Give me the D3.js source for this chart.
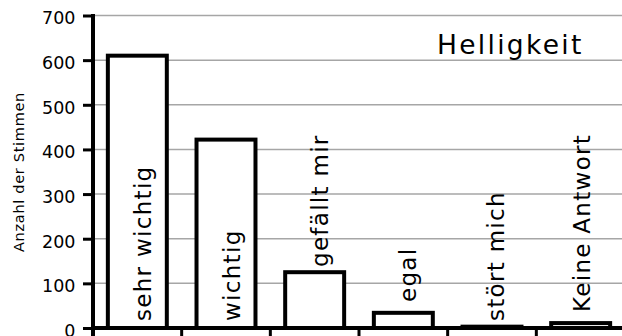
<!DOCTYPE html>
<html><head><meta charset="utf-8">
<script src="https://cdn.jsdelivr.net/npm/d3@7"></script>
<style>html,body{margin:0;padding:0;background:#fff;overflow:hidden}</style>
</head><body>
<svg id="c" width="622" height="336"></svg>
<script>
const categories = ["sehr wichtig","wichtig","gefällt mir","egal","stört mich","Keine Antwort"];
const values = [610, 422, 125, 34, 3, 11];
const yTicks = [0,100,200,300,400,500,600,700];
const title = "Helligkeit";
const yTitle = "Anzahl der Stimmen";

// layout of the hand-placed category labels (pixel positions, not data)
const labelBottom = [321, 321, 267, 302, 321, 312];
const labelDx = [13.5, 13.5, 13, 12.5, 12, 9.5];

const svg = d3.select("#c");
const font = "'DejaVu Sans', sans-serif";
const x0 = 93, x1 = 625, yZero = 328, yTop = 15.5;
const y = d3.scaleLinear().domain([0,700]).range([yZero, yTop]);
const x = d3.scaleBand().domain(categories).range([x0, x1]).paddingInner(0.335).paddingOuter(0.1675);

// gridlines
svg.append("g").selectAll("line").data(yTicks.filter(d=>d>0)).join("line")
  .attr("x1", x0).attr("x2", 622).attr("y1", d=>y(d)).attr("y2", d=>y(d))
  .attr("stroke", "#a6a6a6").attr("stroke-width", 1.5);

// bars
svg.append("g").selectAll("rect").data(values).join("rect")
  .attr("x", (d,i)=>x(categories[i])).attr("width", x.bandwidth())
  .attr("y", d=>y(d)).attr("height", d=>yZero - y(d))
  .attr("fill", "#fff").attr("stroke", "#000").attr("stroke-width", 4);

// y axis
const yAxis = d3.axisLeft(y).tickValues(yTicks).tickSize(10).tickPadding(7.5);
const ga = svg.append("g").attr("transform", `translate(${x0},0)`).call(yAxis);
ga.select(".domain").remove();
ga.selectAll(".tick line").attr("stroke", "#000").attr("stroke-width", 3);
ga.selectAll(".tick text").attr("font-family", font).attr("font-size", 17.5)
  .attr("fill", "#000").attr("dy", "0.48em");
svg.append("line").attr("x1", x0).attr("x2", x0).attr("y1", yTop - 1.5).attr("y2", 336)
  .attr("stroke", "#000").attr("stroke-width", 4);

// x axis
svg.append("line").attr("x1", x0 - 2).attr("x2", 622).attr("y1", yZero).attr("y2", yZero)
  .attr("stroke", "#000").attr("stroke-width", 4);
const step = x.step();
const bounds = categories.map((c,i)=> x0 + i*step);
svg.append("g").selectAll("line").data(bounds.slice(1)).join("line")
  .attr("x1", d=>d).attr("x2", d=>d).attr("y1", yZero).attr("y2", 340)
  .attr("stroke", "#000").attr("stroke-width", 3);

// labels in / above bars
svg.append("g").selectAll("text").data(categories).join("text")
  .attr("transform", (d,i)=>`translate(${x(d) + x.bandwidth()/2 + labelDx[i]},${labelBottom[i]}) rotate(-90)`)
  .attr("font-family", font).attr("font-size", 23).attr("letter-spacing", 1.3).attr("fill", "#000")
  .text(d=>d);

// y title
svg.append("text").attr("transform", "translate(24,172) rotate(-90)")
  .attr("text-anchor", "middle").attr("font-family", font).attr("font-size", 14.5)
  .attr("letter-spacing", 0.7)
  .text(yTitle);

// title
svg.append("text").attr("x", 437).attr("y", 54).attr("font-family", font)
  .attr("font-size", 26.5).attr("letter-spacing", 2.3).text(title);
</script>
</body></html>
